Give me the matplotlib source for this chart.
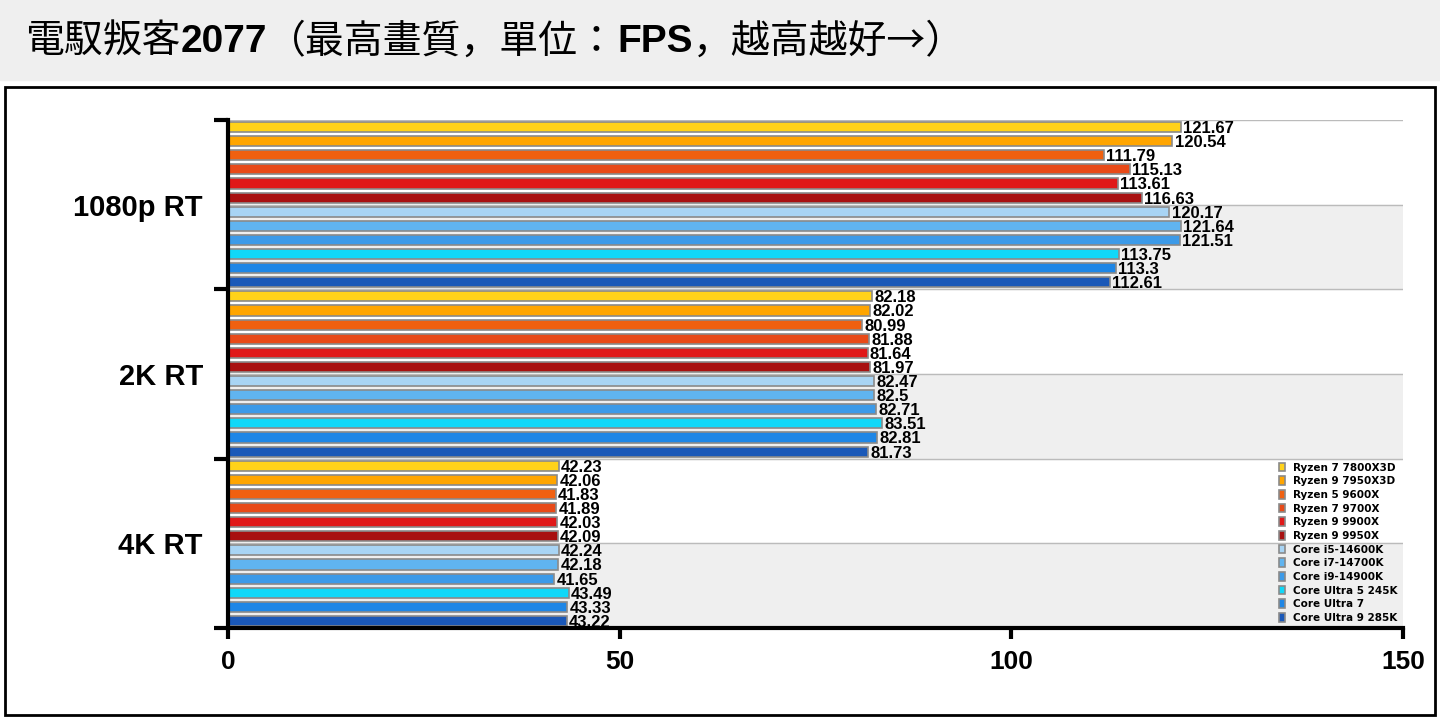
import matplotlib.pyplot as plt
import matplotlib.patches as mpatches
import numpy as np

groups = ['1080p RT', '2K RT', '4K RT']
cpus = ['Ryzen 7 7800X3D', 'Ryzen 9 7950X3D', 'Ryzen 5 9600X', 'Ryzen 7 9700X',
        'Ryzen 9 9900X', 'Ryzen 9 9950X', 'Core i5-14600K', 'Core i7-14700K',
        'Core i9-14900K', 'Core Ultra 5 245K', 'Core Ultra 7', 'Core Ultra 9 285K']
fps_1080 = [121.67, 120.54, 111.79, 115.13, 113.61, 116.63, 120.17, 121.64, 121.51, 113.75, 113.3, 112.61]
fps_2k = [82.18, 82.02, 80.99, 81.88, 81.64, 81.97, 82.47, 82.5, 82.71, 83.51, 82.81, 81.73]
fps_4k = [42.23, 42.06, 41.83, 41.89, 42.03, 42.09, 42.24, 42.18, 41.65, 43.49, 43.33, 43.22]
colors = ['#FFD21A', '#FFA500', '#F06010', '#E84A18', '#E01818', '#A81010',
          '#A8D4F4', '#60B4F0', '#3C9AE8', '#10D8F8', '#1E86E6', '#1A58B8']

fig = plt.figure(figsize=(14.4, 7.2), dpi=100)
fig.patches.append(mpatches.Rectangle((0, 1 - 80 / 720), 1, 80 / 720, transform=fig.transFigure,
                                      color='#EFEFEF', zorder=0))
fig.patches.append(mpatches.Rectangle((5 / 1440, 5 / 720), 1430 / 1440, 628 / 720, transform=fig.transFigure,
                                      fill=False, edgecolor='black', lw=2))

# title with bold parts
pieces = [('電馭叛客', 'normal', 'Noto Sans CJK JP'), ('2077', 'bold', 'Liberation Sans'),
          ('（最高畫質，單位：', 'normal', 'Noto Sans CJK JP'),
          ('FPS', 'bold', 'Liberation Sans'), ('，越高越好→）', 'normal', 'Noto Sans CJK JP')]
r = fig.canvas.get_renderer()
x = 25 / 1440
for s, w, fam in pieces:
    t = fig.text(x, 1 - 42 / 720, s, fontsize=28, fontweight=w, va='center', family=fam)
    bb = t.get_window_extent(renderer=r)
    x += bb.width / 1440

ax = fig.add_axes([228 / 1440, 1 - 628 / 720, 1175 / 1440, 508 / 720])
data = [fps_1080, fps_2k, fps_4k]
for g, vals in enumerate(data):
    base = g * 12
    ax.axhspan(base + 5.5, base + 11.5, color='#EFEFEF', zorder=0)
    for i, v in enumerate(vals):
        y = base + i
        ax.barh(y, v, height=0.72, color=colors[i], edgecolor='#8A8A8A', lw=1.2, zorder=2,
                label=cpus[i] if g == 0 else None)
        ax.text(v + 0.3, y + 0.1, f'{v:g}', fontsize=12, va='center', ha='left', zorder=3,
                family='Liberation Sans', fontweight='bold')
for yb in np.arange(-0.5, 36, 6):
    ax.axhline(yb, color='#BBBBBB', lw=1, zorder=1)

ax.set_xlim(0, 150)
ax.set_ylim(35.5, -0.5)
ax.set_xticks([0, 50, 100, 150])
ax.set_xticklabels(['0', '50', '100', '150'], fontsize=19, fontweight='bold', family='Liberation Sans')
ax.set_yticks([-0.5, 11.5, 23.5, 35.5])
ax.set_yticklabels([])
ax.set_yticks([5.5, 17.5, 29.5], minor=True)
ax.set_yticklabels(groups, minor=True, fontsize=21, fontweight='bold', family='Liberation Sans')
ax.tick_params(axis='y', which='minor', length=0, pad=18)
ax.tick_params(axis='y', which='major', length=10, width=3)
ax.tick_params(axis='x', length=8, width=3, pad=8)
for s in ['top', 'right']:
    ax.spines[s].set_visible(False)
ax.spines['left'].set_linewidth(3)
ax.spines['bottom'].set_linewidth(3)

leg = ax.legend(loc='lower right', fontsize=7.5, frameon=False, handlelength=0.6, handleheight=0.9,
                labelspacing=0.35, borderaxespad=0.1)
for t in leg.get_texts():
    t.set_fontweight('bold')

fig.savefig('out.png', dpi=100)
